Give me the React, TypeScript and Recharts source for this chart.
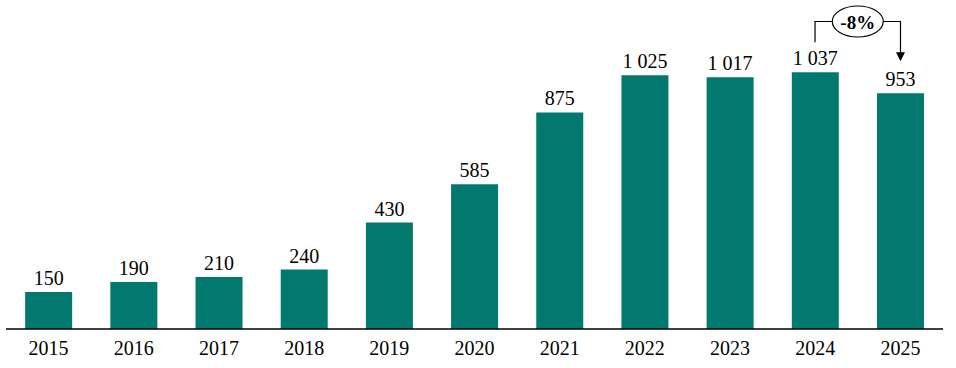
import React from 'react';
import { BarChart, Bar, XAxis, YAxis, LabelList } from 'recharts';

const years = ['2015', '2016', '2017', '2018', '2019', '2020', '2021', '2022', '2023', '2024', '2025'];
const values = [150, 190, 210, 240, 430, 585, 875, 1025, 1017, 1037, 953];
const changeLabel = '-8%';

const data = years.map((y, i) => ({ year: y, value: values[i] }));

const GAP = 0.225;
const FONT = '"Liberation Serif", "DejaVu Serif", serif';

const fmt = (v: any) => {
  const n = Number(v);
  const s = String(Math.round(n));
  return s.replace(/\B(?=(\d{3})+(?!\d))/g, '\u00A0');
};

const Annotation = (props: any) => {
  const { x, y, width, height, index } = props;
  if (index !== values.length - 1) return null;
  const base = y + height;
  const scale = height / values[index];
  const prevTop = base - values[index - 1] * scale;
  const cx2 = x + width / 2;
  const cx1 = cx2 - width / (1 - 2 * GAP);
  const mid = (cx1 + cx2) / 2;
  const topY = 21.5;
  const rx = 25.5;
  const ry = 15.5;
  const tip = y - 32;
  return (
    <g>
      <polyline points={`${cx1},${prevTop - 30} ${cx1},${topY} ${mid - rx},${topY}`} fill="none" stroke="#000" strokeWidth={1.2} />
      <polyline points={`${mid + rx},${topY} ${cx2},${topY} ${cx2},${tip - 7}`} fill="none" stroke="#000" strokeWidth={1.2} />
      <polygon points={`${cx2 - 4.5},${tip - 9} ${cx2 + 4.5},${tip - 9} ${cx2},${tip}`} fill="#000" />
      <ellipse cx={mid} cy={topY} rx={rx} ry={ry} fill="#fff" stroke="#000" strokeWidth={1.2} />
      <text x={mid} y={topY + 1} textAnchor="middle" dominantBaseline="central" fontFamily={FONT} fontSize={19} fontWeight="bold" fill="#000">
        {changeLabel}
      </text>
    </g>
  );
};

export default function App() {
  return (
    <div style={{ position: 'absolute', left: 0, top: 0, background: '#fff' }}>
      <BarChart
        width={956}
        height={368}
        data={data}
        margin={{ top: 32, right: 13, left: 6, bottom: 9 }}
        barCategoryGap={`${GAP * 100}%`}
      >
        <XAxis
          dataKey="year"
          tickLine={false}
          tickSize={0}
          tickMargin={12}
          axisLine={{ stroke: '#000', strokeWidth: 1.5 }}
          height={30}
          tick={{ fill: '#000', fontSize: 20, fontFamily: FONT }}
        />
        <YAxis hide domain={[0, 1200]} />
        <Bar dataKey="value" fill="#02796F" isAnimationActive={false}>
          <LabelList
            dataKey="value"
            position="top"
            offset={7}
            formatter={fmt}
            style={{ fill: '#000', fontSize: 20, fontFamily: FONT }}
          />
          <LabelList dataKey="value" content={Annotation} />
        </Bar>
      </BarChart>
    </div>
  );
}
